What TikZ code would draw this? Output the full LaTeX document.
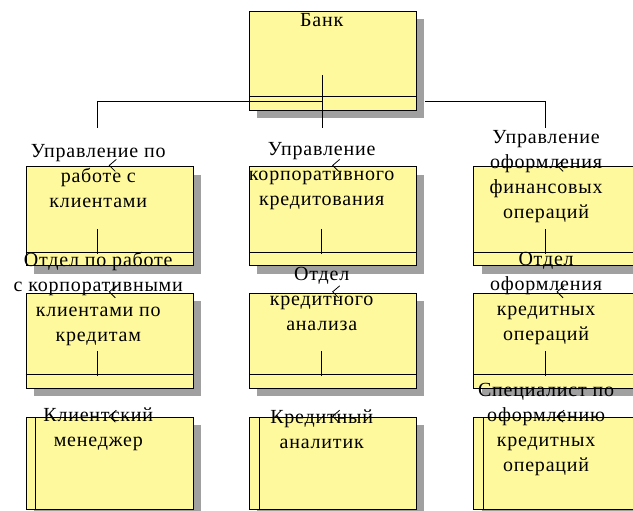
\documentclass[tikz,border=0pt]{standalone}
\usepackage{fontspec}
\setmainfont{Liberation Serif}
\newfontfamily\lblfont[LetterSpace=4]{Liberation Serif}
\usetikzlibrary{positioning,calc,shadows}
\definecolor{boxyellow}{RGB}{255,249,158}
\definecolor{shadegray}{RGB}{160,160,160}

\begin{document}
\begin{tikzpicture}[x=1pt,y=-1pt,
    unit/.style={draw=black,fill=boxyellow,minimum width=167pt,inner sep=0pt,
      drop shadow={shadow xshift=8pt,shadow yshift=-8pt,fill=shadegray,opacity=1}},
    lbl/.style={align=center,inner sep=0pt,font=\lblfont\fontsize{20}{25}\selectfont}]
  \useasboundingbox (0,0) rectangle (633,511);
  \clip (0,0) rectangle (633,511);

  % boxes
  \node[unit,minimum height=99pt,anchor=north west] (bank) at (249,11) {};
  \node[unit,minimum height=99pt] (upr2) [below=56pt of bank] {};
  \node[unit,minimum height=99pt] (upr1) [left=56pt of upr2] {};
  \node[unit,minimum height=99pt] (upr3) [right=57pt of upr2] {};
  \node[unit,minimum height=95pt] (otd1) [below=27pt of upr1] {};
  \node[unit,minimum height=95pt] (otd2) [below=27pt of upr2] {};
  \node[unit,minimum height=95pt] (otd3) [below=27pt of upr3] {};
  \node[unit,minimum height=92pt] (isp1) [below=29pt of otd1] {};
  \node[unit,minimum height=92pt] (isp2) [below=29pt of otd2] {};
  \node[unit,minimum height=92pt] (isp3) [below=29pt of otd3] {};

  \foreach \b in {bank,upr1,upr2,upr3,otd1,otd2,otd3}
    \draw ($(\b.south west)+(0,-14)$) -- ($(\b.south east)+(0,-14)$);
  \foreach \b in {isp1,isp2,isp3}
    \draw ($(\b.north west)+(10,0)$) -- ($(\b.south west)+(10,0)$);
  \foreach \b in {upr1,upr2,upr3,otd1,otd2,otd3}
    \draw ($(\b.south)+(-12,-37)$) -- ($(\b.south)+(-12,-12)$);

  % connectors
  \coordinate (stemtop) at ($(bank.south)+(-11,-35)$);
  \coordinate (stembot) at ($(bank.south)+(-11,18)$);
  \coordinate (busL) at ($(upr1.north)+(-12,-65)$);
  \coordinate (busR) at ($(upr3.north)+(-12,-65)$);
  \coordinate (busM) at (stemtop |- busL);
  \coordinate (busS) at ($(bank.south east)+(9,-9)$);
  \draw (stemtop) -- (stembot);
  \draw (busL) -- (busM);
  \draw (busS) -- (busR);
  \draw (busL) -- ++(0,27);
  \draw (busR) -- ++(0,27);

  % labels
  \node[lbl] (tbank) at ($(bank.north)+(-11,9)$) {Банк};
  \node[lbl] (tupr1) at ($(upr1.north)+(-11,10)$) {Управление по\\работе с\\клиентами};
  \node[lbl] (tupr2) at ($(upr2.north)+(-11,10)$) {Управление\\корпоративного\\кредитования};
  \node[lbl] (tupr3) at ($(upr3.north)+(-11,10)$) {Управление\\оформления\\финансовых\\операций};
  \node[lbl] (totd1) at ($(otd1.north)+(-11,6)$) {Отдел по работе\\с корпоративными\\клиентами по\\кредитам};
  \node[lbl] (totd2) at ($(otd2.north)+(-11,6)$) {Отдел\\кредитного\\анализа};
  \node[lbl] (totd3) at ($(otd3.north)+(-11,6)$) {Отдел\\оформления\\кредитных\\операций};
  \node[lbl] (tisp1) at ($(isp1.north)+(-11,12)$) {Клиентский\\менеджер};
  \node[lbl] (tisp2) at ($(isp2.north)+(-11,12)$) {Кредитный\\аналитик};
  \node[lbl] (tisp3) at ($(isp3.north)+(-11,12)$) {Специалист по\\оформлению\\кредитных\\операций};

  % little open heads at the top of each box
  \foreach \b in {upr1,upr2,upr3,otd1,otd2,otd3,isp1,isp2,isp3}
    \draw[line width=0.8pt] ($(\b.north)+(7,-7)$) -- ($(\b.north)+(0,-1)$) -- ($(\b.north)+(6,5)$);
\end{tikzpicture}
\end{document}
